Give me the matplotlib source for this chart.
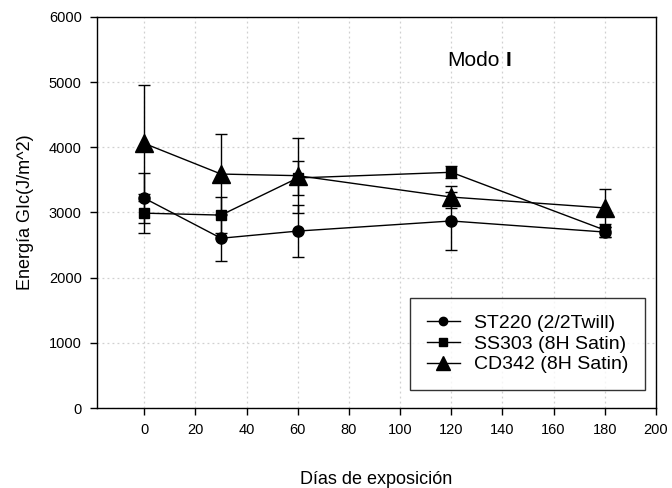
import matplotlib.pyplot as plt
import numpy as np

plt.rcParams['font.family'] = ['Liberation Sans', 'DejaVu Sans']

# Exposure days
dias = [0, 30, 60, 120, 180]

# Mode I energy GIc (J/m^2) and error bars
st220 = [3220, 2605, 2715, 2870, 2700]
st220_err = [380, 350, 400, 440, 80]
ss303 = [2990, 2960, 3530, 3617, 2730]
ss303_err = [300, 280, 260, 90, 100]
cd342 = [4060, 3590, 3565, 3237, 3070]
cd342_err = [890, 610, 575, 170, 290]

series_labels = ['ST220 (2/2Twill)', 'SS303 (8H Satin)', 'CD342 (8H Satin)']
xticks = list(range(0, 201, 20))
yticks = list(range(0, 6001, 1000))

fig = plt.figure(figsize=(6.72, 4.88), dpi=100)
ax = fig.add_axes([0.1443, 0.1639, 0.8318, 0.8013])

styles = [('o', 8), ('s', 7), ('^', 13)]
handles = []
for (y, err, lab), (mk, ms) in zip([(st220, st220_err, series_labels[0]),
                                    (ss303, ss303_err, series_labels[1]),
                                    (cd342, cd342_err, series_labels[2])], styles):
    cont = ax.errorbar(dias, y, yerr=err, color='black', marker=mk, markersize=ms,
                       linewidth=1.0, elinewidth=1.0, capsize=4.5, capthick=1.0,
                       label=lab)
    handles.append(cont[0])

ax.set_xlim(-18.5, 200)
ax.set_ylim(0, 6000)
ax.set_xticks(xticks)
ax.set_yticks(yticks)
ax.tick_params(direction='out', length=5, width=1, labelsize=10.5, pad=6)
ax.grid(True, color='#d0d0d0', linestyle=(0, (1.5, 2.5)), linewidth=0.9)
ax.set_axisbelow(True)
for sp in ax.spines.values():
    sp.set_linewidth(1.0)

ax.set_xlabel('Días de exposición', fontsize=13, labelpad=24)
ax.set_ylabel('Energía GIc(J/m^2)', fontsize=13, labelpad=11)

t = ax.text(0.627, 0.888, 'Modo', transform=ax.transAxes, fontsize=15,
            ha='left', va='center')
ax.annotate('I', xy=(1, 0.5), xycoords=t, xytext=(4, 0),
            textcoords='offset points', fontsize=15, fontweight='bold',
            ha='left', va='center')

leg = ax.legend(handles, series_labels, loc='upper left',
                bbox_to_anchor=(0.56, 0.281, 0.42, 0.0),
                mode='expand', fontsize=14, frameon=True, fancybox=False,
                edgecolor='black', handlelength=1.7, borderpad=0.85,
                labelspacing=0.15, handletextpad=0.75, markerscale=0.75,
                borderaxespad=0.0)
leg.get_frame().set_linewidth(1.0)
# pull the handles a bit closer to the frame's left edge
leg._legend_box.align = 'left'

fig.savefig('out.png', dpi=100)
